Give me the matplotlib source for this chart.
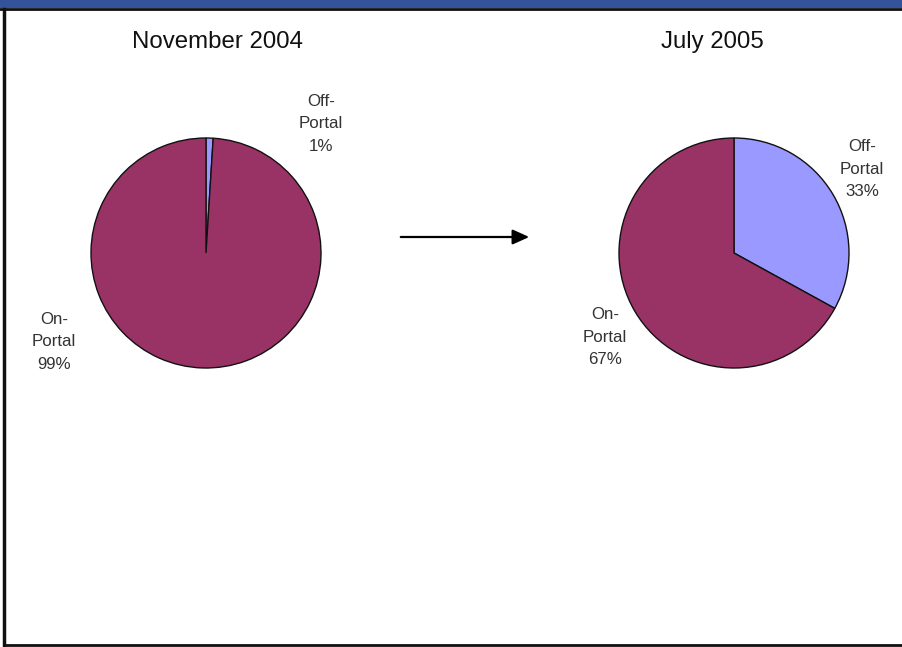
import matplotlib.pyplot as plt
from matplotlib.patches import Rectangle

plt.rcParams["font.family"] = ["Liberation Sans", "DejaVu Sans"]

# portal share, off-portal first (drawn clockwise from 12 o'clock)
periods = ["November 2004", "July 2005"]
segments = ["Off-Portal", "On-Portal"]
off_portal = [1, 33]
on_portal = [99, 67]

COLORS = ["#9999FF", "#993366"]
W, H = 902, 647

fig = plt.figure(figsize=(W / 100, H / 100), dpi=100)
ax = fig.add_axes([0, 0, 1, 1])


def py(y):
    # convert top-down pixel row to axes y
    return H - y


# frame: blue header band and black border
ax.add_patch(Rectangle((0, py(8)), W, 8, facecolor="#34539A", edgecolor="none"))
ax.plot([0, W], [py(9), py(9)], color="#111111", lw=2)
ax.plot([4, 4], [py(9), py(645)], color="#111111", lw=2.5)
ax.plot([4, W], [py(645), py(645)], color="#111111", lw=2)

centers = [(206, 253), (734, 253)]
title_pos = [(217, 42), (712, 42)]
off_label = [(321, 124), (862, 169)]
on_label = [(54, 342), (605, 337)]
radius = 115

for i, period in enumerate(periods):
    cx, cy = centers[i]
    ax.pie([off_portal[i], on_portal[i]], colors=COLORS, startangle=90,
           counterclock=False, center=(cx, py(cy)), radius=radius,
           wedgeprops=dict(edgecolor="#111111", linewidth=1.0),
           frame=True)
    ax.text(title_pos[i][0], py(title_pos[i][1]), period, ha="center",
            va="center", fontsize=17.3, color="#111111")
    ax.text(off_label[i][0], py(off_label[i][1]),
            "Off-\nPortal\n%d%%" % off_portal[i], ha="center", va="center",
            fontsize=12.2, color="#333333", linespacing=1.6)
    ax.text(on_label[i][0], py(on_label[i][1]),
            "On-\nPortal\n%d%%" % on_portal[i], ha="center", va="center",
            fontsize=12.2, color="#333333", linespacing=1.6)

ax.set_xlim(0, W)
ax.set_ylim(0, H)
ax.set_aspect("equal")
ax.axis("off")

ax.annotate("", xy=(532, py(237)), xytext=(398, py(237)),
            arrowprops=dict(arrowstyle="-|>,head_length=1.0,head_width=0.45",
                            color="#000000", lw=1.6))

fig.savefig("out.png", dpi=100)
